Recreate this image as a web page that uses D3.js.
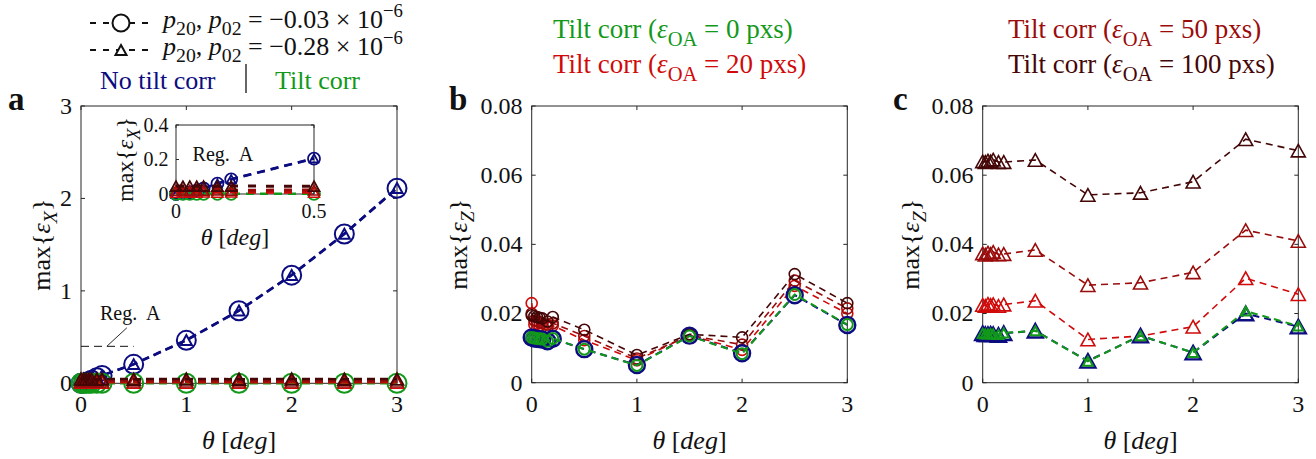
<!DOCTYPE html>
<html><head><meta charset="utf-8">
<script src="https://cdn.jsdelivr.net/npm/d3@7"></script>
<style>
body{margin:0;background:#fff;}
text, tspan{white-space:pre;}
</style></head>
<body><svg id="c" width="1316" height="459"></svg>
<script>
// ---------------- DATA ----------------
const theta = [0, 0.025, 0.05, 0.075, 0.1, 0.15, 0.2, 0.5, 1, 1.5, 2, 2.5, 3];
const seriesNames = ["No tilt corr", "Tilt corr (0 pxs)", "Tilt corr (20 pxs)", "Tilt corr (50 pxs)", "Tilt corr (100 pxs)"];
const seriesColors = ["#0c0c80", "#12991a", "#d00a0a", "#9a0c0c", "#440606"];

// panel a: max{eps_X}
const exNoTiltCirc = [0.000, 0.004, 0.010, 0.020, 0.032, 0.060, 0.085, 0.205, 0.465, 0.785, 1.170, 1.615, 2.110];
const exNoTiltTri  = [0.000, 0.004, 0.011, 0.021, 0.033, 0.061, 0.086, 0.207, 0.468, 0.788, 1.172, 1.618, 2.113];
const exTilt0   = [0.001, 0.001, 0.001, 0.001, 0.001, 0.001, 0.001, 0.001, 0.001, 0.001, 0.001, 0.001, 0.001];
const exTilt20  = [0.010, 0.010, 0.011, 0.010, 0.011, 0.010, 0.011, 0.010, 0.011, 0.010, 0.011, 0.010, 0.011];
const exTilt50  = [0.022, 0.023, 0.022, 0.023, 0.022, 0.023, 0.022, 0.023, 0.022, 0.023, 0.022, 0.023, 0.022];
const exTilt100 = [0.046, 0.045, 0.046, 0.045, 0.046, 0.045, 0.046, 0.045, 0.046, 0.045, 0.046, 0.045, 0.046];

// panel b: max{eps_Z}, p = -0.03e-6 (circles)
const ezCircNoTilt = [0.0131, 0.0128, 0.0127, 0.0126, 0.0125, 0.0120, 0.0127, 0.0097, 0.0051, 0.0136, 0.0085, 0.0253, 0.0167];
const ezCirc0      = [0.0131, 0.0129, 0.0128, 0.0127, 0.0126, 0.0120, 0.0128, 0.0097, 0.0050, 0.0135, 0.0084, 0.0255, 0.0168];
const ezCirc20     = [0.0230, 0.0168, 0.0170, 0.0165, 0.0163, 0.0160, 0.0165, 0.0123, 0.0065, 0.0137, 0.0095, 0.0280, 0.0200];
const ezCirc50     = [0.0200, 0.0180, 0.0178, 0.0175, 0.0172, 0.0168, 0.0172, 0.0135, 0.0070, 0.0137, 0.0110, 0.0295, 0.0215];
const ezCirc100    = [0.0195, 0.0192, 0.0190, 0.0188, 0.0186, 0.0177, 0.0190, 0.0153, 0.0080, 0.0140, 0.0131, 0.0314, 0.0230];

// panel c: max{eps_Z}, p = -0.28e-6 (triangles)
const ezTriNoTilt = [0.0143, 0.0140, 0.0140, 0.0141, 0.0140, 0.0138, 0.0143, 0.0150, 0.0063, 0.0136, 0.0087, 0.0200, 0.0162];
const ezTri0      = [0.0143, 0.0141, 0.0141, 0.0142, 0.0141, 0.0139, 0.0144, 0.0150, 0.0062, 0.0136, 0.0087, 0.0207, 0.0164];
const ezTri20     = [0.0225, 0.0222, 0.0228, 0.0225, 0.0227, 0.0222, 0.0226, 0.0237, 0.0125, 0.0135, 0.0162, 0.0302, 0.0256];
const ezTri50     = [0.0374, 0.0370, 0.0376, 0.0372, 0.0378, 0.0371, 0.0372, 0.0384, 0.0282, 0.0289, 0.0319, 0.0441, 0.0410];
const ezTri100    = [0.0640, 0.0638, 0.0642, 0.0640, 0.0645, 0.0638, 0.0638, 0.0644, 0.0543, 0.0549, 0.0581, 0.0704, 0.0671];

const xTicks = [0, 1, 2, 3];
const yTicksA = [0, 1, 2, 3];
const yTicksBC = [0, 0.02, 0.04, 0.06, 0.08];
const xTicksInset = [0, 0.5];
const yTicksInset = [0, 0.2, 0.4];
const legendP = ["\u22120.03", "\u22120.28"];
const legendEps = ["0", "20", "50", "100"];

// ---------------- HELPERS ----------------
const svg = d3.select("#c");
const AX = "#262626";
const FONT = "'Liberation Serif'";

function rich(parent, x, y, size, parts) {
  const t = parent.append("text").attr("x", x).attr("y", y).style("font-size", size + "px").style("font-family", FONT);
  let cur = 0;
  parts.forEach(p => {
    const str = p[0], st = p[1] || "";
    let off = 0, fs = size;
    if (st.includes("sub")) { off = size * 0.28; fs = size * 0.76; }
    if (st.includes("sup")) { off = -size * 0.42; fs = size * 0.72; }
    const ts = t.append("tspan").attr("dy", off - cur).style("font-size", fs + "px").style("font-family", FONT).text(str);
    if (st.includes("i")) ts.style("font-style", "italic");
    cur = off;
  });
  return t;
}

function triPath(w) {
  const h = w * 0.9;
  return `M0,${-h/2}L${w/2},${h/2}L${-w/2},${h/2}Z`;
}

function frame(g, x, y, xt, yt, fmtY, fs, tickLen, yLabX, xLabY, yLabParts, labSize, xLabShift) {
  const x0 = x.range()[0], x1 = x.range()[1], y0 = y.range()[0], y1 = y.range()[1];
  g.append("rect").attr("x", x0).attr("y", y1).attr("width", x1 - x0).attr("height", y0 - y1)
    .attr("fill", "none").attr("stroke", AX).attr("stroke-width", 1);
  xt.forEach(v => {
    g.append("line").attr("x1", x(v)).attr("x2", x(v)).attr("y1", y0).attr("y2", y0 - tickLen).attr("stroke", AX);
    g.append("line").attr("x1", x(v)).attr("x2", x(v)).attr("y1", y1).attr("y2", y1 + tickLen).attr("stroke", AX);
    g.append("text").attr("x", x(v)).attr("y", y0 + fs * 1.2).attr("text-anchor", "middle")
      .style("font-size", fs + "px").style("font-family", FONT).attr("fill", "#111").text(String(v));
  });
  yt.forEach(v => {
    g.append("line").attr("x1", x0).attr("x2", x0 + tickLen).attr("y1", y(v)).attr("y2", y(v)).attr("stroke", AX);
    g.append("line").attr("x1", x1).attr("x2", x1 - tickLen).attr("y1", y(v)).attr("y2", y(v)).attr("stroke", AX);
    g.append("text").attr("x", x0 - fs * 0.38).attr("y", y(v) + fs * 0.33).attr("text-anchor", "end")
      .style("font-size", fs + "px").style("font-family", FONT).attr("fill", "#111").text(fmtY(v));
  });
  const xl = rich(g, (x0 + x1) / 2 + (xLabShift || 0), xLabY, labSize, [["\u03b8", "i"], [" ["], ["deg", "i"], ["]"]]);
  xl.attr("text-anchor", "middle").attr("fill", "#111");
  const yg = g.append("g").attr("transform", `translate(${yLabX},${(y0 + y1) / 2}) rotate(-90)`);
  rich(yg, 0, 0, labSize, yLabParts).attr("text-anchor", "middle").attr("fill", "#111");
}

function drawSeries(g, x, y, vals, color, opts) {
  const xmax = x.domain()[1];
  const pts = theta.map((t, i) => [t, vals[i]]).filter(d => d[0] <= xmax + 1e-9);
  const line = d3.line().x(d => x(d[0])).y(d => y(d[1]));
  g.append("path").datum(pts).attr("d", line).attr("fill", "none")
    .attr("stroke", color).attr("stroke-width", opts.lw).attr("stroke-dasharray", opts.dash || "7,5");
  const m = g.append("g");
  pts.forEach(d => {
    if (opts.shape === "circle") {
      m.append("circle").attr("cx", x(d[0])).attr("cy", y(d[1])).attr("r", opts.size)
        .attr("fill", "none").attr("stroke", color).attr("stroke-width", opts.mlw);
    } else {
      m.append("path").attr("d", triPath(opts.size)).attr("transform", `translate(${x(d[0])},${y(d[1])})`)
        .attr("fill", "none").attr("stroke", color).attr("stroke-width", opts.mlw);
    }
  });
}

const eZlab = [["max{"], ["\u03b5", "i"], ["Z", "i sub"], ["}"]];
const eXlab = [["max{"], ["\u03b5", "i"], ["X", "i sub"], ["}"]];
const [cNo, c0, c20, c50, c100] = seriesColors;

// ---------------- PANEL A ----------------
{
  const g = svg.append("g");
  const x = d3.scaleLinear().domain([0, 3]).range([81, 397]);
  const y = d3.scaleLinear().domain([0, 3]).range([383.3, 106]);
  frame(g, x, y, xTicks, yTicksA, v => String(v), 24, 4, 50, 449, eXlab, 26, 0);
  g.append("line").attr("x1", x(0)).attr("x2", x(0.5)).attr("y1", y(0.4)).attr("y2", y(0.4))
    .attr("stroke", "#111").attr("stroke-width", 1).attr("stroke-dasharray", "8,5");
  g.append("line").attr("x1", x(0.245)).attr("x2", x(0.435)).attr("y1", y(0.4)).attr("y2", y(0.6))
    .attr("stroke", "#111").attr("stroke-width", 0.9);
  g.append("text").attr("x", x(0.18)).attr("y", y(0.69)).style("font-size", "20px").style("font-family", FONT)
    .attr("fill", "#111").text("Reg.  A");

  drawSeries(g, x, y, exNoTiltCirc, cNo, {shape: "circle", size: 9.5, mlw: 2, lw: 2.5, dash: "8,5"});
  drawSeries(g, x, y, exNoTiltTri, cNo, {shape: "tri", size: 11, mlw: 2, lw: 2.5, dash: "8,5"});
  drawSeries(g, x, y, exTilt0, c0, {shape: "circle", size: 9.5, mlw: 2, lw: 2.5, dash: "8,5"});
  drawSeries(g, x, y, exTilt20, c20, {shape: "tri", size: 13, mlw: 1.5, lw: 2.5, dash: "8,5"});
  drawSeries(g, x, y, exTilt50, c50, {shape: "tri", size: 13, mlw: 1.5, lw: 2.5, dash: "8,5"});
  drawSeries(g, x, y, exTilt100, c100, {shape: "tri", size: 13, mlw: 1.8, lw: 2.5, dash: "8,5"});

  // inset
  const gi = svg.append("g");
  const xi = d3.scaleLinear().domain([0, 0.5]).range([176, 314]);
  const yi = d3.scaleLinear().domain([0, 0.4]).range([194, 125]);
  gi.append("rect").attr("x", 176).attr("y", 125).attr("width", 138).attr("height", 69).attr("fill", "#fff");
  gi.append("text").attr("x", xi(0.06)).attr("y", yi(0.19)).style("font-size", "20px").style("font-family", FONT)
    .attr("fill", "#111").text("Reg.  A");
  frame(gi, xi, yi, xTicksInset, yTicksInset, v => String(v), 20, 3, 133, 245, eXlab, 24, -10);
  drawSeries(gi, xi, yi, exNoTiltCirc, cNo, {shape: "circle", size: 6, mlw: 1.8, lw: 2.5, dash: "8,6"});
  drawSeries(gi, xi, yi, exNoTiltTri, cNo, {shape: "tri", size: 9, mlw: 1.8, lw: 2.5, dash: "8,6"});
  drawSeries(gi, xi, yi, exTilt0, c0, {shape: "circle", size: 6, mlw: 1.8, lw: 2.5, dash: "8,6"});
  drawSeries(gi, xi, yi, exTilt20, c20, {shape: "tri", size: 11, mlw: 1.5, lw: 3, dash: "8,10"});
  drawSeries(gi, xi, yi, exTilt50, c50, {shape: "tri", size: 11, mlw: 1.5, lw: 3, dash: "8,10"});
  drawSeries(gi, xi, yi, exTilt100, c100, {shape: "tri", size: 11, mlw: 1.8, lw: 3, dash: "8,10"});
}

// ---------------- PANEL B ----------------
{
  const g = svg.append("g");
  const x = d3.scaleLinear().domain([0, 3]).range([531.7, 847.3]);
  const y = d3.scaleLinear().domain([0, 0.08]).range([382.7, 106]);
  frame(g, x, y, xTicks, yTicksBC, v => v === 0 ? "0" : d3.format(".2f")(v), 24, 4, 467, 449, eZlab, 26, 0);
  drawSeries(g, x, y, ezCirc20, c20, {shape: "circle", size: 5.5, mlw: 1.6, lw: 1.6, dash: "7,5"});
  drawSeries(g, x, y, ezCirc50, c50, {shape: "circle", size: 5.5, mlw: 1.6, lw: 1.6, dash: "7,5"});
  drawSeries(g, x, y, ezCirc100, c100, {shape: "circle", size: 5.5, mlw: 1.6, lw: 1.6, dash: "7,5"});
  drawSeries(g, x, y, ezCircNoTilt, cNo, {shape: "circle", size: 8, mlw: 2.4, lw: 2, dash: "7,5"});
  drawSeries(g, x, y, ezCirc0, c0, {shape: "circle", size: 5.5, mlw: 2, lw: 2, dash: "7,5"});
}

// ---------------- PANEL C ----------------
{
  const g = svg.append("g");
  const x = d3.scaleLinear().domain([0, 3]).range([982.7, 1298.3]);
  const y = d3.scaleLinear().domain([0, 0.08]).range([382.7, 106]);
  frame(g, x, y, xTicks, yTicksBC, v => v === 0 ? "0" : d3.format(".2f")(v), 24, 4, 919, 449, eZlab, 26, 0);
  drawSeries(g, x, y, ezTri20, c20, {shape: "tri", size: 14, mlw: 1.6, lw: 1.6, dash: "7,5"});
  drawSeries(g, x, y, ezTri50, c50, {shape: "tri", size: 14, mlw: 1.6, lw: 1.6, dash: "7,5"});
  drawSeries(g, x, y, ezTri100, c100, {shape: "tri", size: 14, mlw: 1.6, lw: 1.6, dash: "7,5"});
  drawSeries(g, x, y, ezTriNoTilt, cNo, {shape: "tri", size: 15, mlw: 2.4, lw: 2, dash: "7,5"});
  drawSeries(g, x, y, ezTri0, c0, {shape: "tri", size: 10, mlw: 2, lw: 2, dash: "7,5"});
}

// ---------------- LEGENDS / LABELS ----------------
{
  const g = svg.append("g");
  [23, 50].forEach((yy, i) => {
    g.append("line").attr("x1", 90).attr("x2", 153).attr("y1", yy).attr("y2", yy)
      .attr("stroke", "#111").attr("stroke-width", 2).attr("stroke-dasharray", "6,7");
    if (i === 0) g.append("circle").attr("cx", 121).attr("cy", yy).attr("r", 8.5).attr("fill", "#fff").attr("stroke", "#111").attr("stroke-width", 2);
    else g.append("path").attr("d", triPath(11)).attr("transform", `translate(121,${yy})`).attr("fill", "#fff").attr("stroke", "#111").attr("stroke-width", 2);
    rich(g, 163, yy + 5, 26, [["p", "i"], ["20", "sub"], [", "], ["p", "i"], ["02", "sub"], [" = " + legendP[i] + " \u00d7 10"], ["\u22126", "sup"]]).attr("fill", "#111");
  });
  g.append("text").attr("x", 100).attr("y", 89).style("font-size", "26px").style("font-family", FONT).attr("fill", cNo).text(seriesNames[0]);
  g.append("line").attr("x1", 246).attr("x2", 246).attr("y1", 64).attr("y2", 93).attr("stroke", "#333").attr("stroke-width", 1.5);
  g.append("text").attr("x", 275).attr("y", 89).style("font-size", "26px").style("font-family", FONT).attr("fill", c0).text("Tilt corr");

  const epsLine = (xx, yy, val, col) => rich(g, xx, yy, 27, [["Tilt corr ("], ["\u03b5", "i"], ["OA", "sub"], [" = " + val + " pxs)"]]).attr("fill", col);
  epsLine(553, 38, legendEps[0], c0);
  epsLine(553, 73, legendEps[1], c20);
  epsLine(1008, 38, legendEps[2], c50);
  epsLine(1008, 73, legendEps[3], c100);

  [["a", 8], ["b", 449], ["c", 893]].forEach(([t, xx]) =>
    g.append("text").attr("x", xx).attr("y", 110).style("font-size", "33px").style("font-weight", "bold")
      .style("font-family", FONT).attr("fill", "#111").text(t));
}
</script></body></html>
